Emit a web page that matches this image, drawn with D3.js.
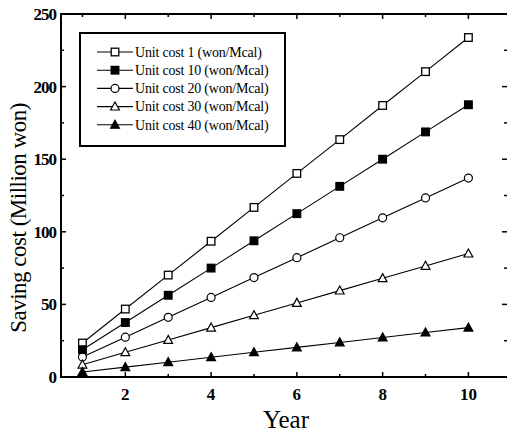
<!DOCTYPE html>
<html>
<head>
<meta charset="utf-8">
<script src="https://cdn.jsdelivr.net/npm/d3@7"></script>
<style>
  body { margin: 0; background: #fff; }
  svg { display: block; }
</style>
</head>
<body>
<div id="chart"></div>
<script>
// data
const years = [1, 2, 3, 4, 5, 6, 7, 8, 9, 10];
const cost1 = [23.4, 46.8, 70.2, 93.5, 116.8, 140.2, 163.5, 187, 210.3, 233.8];
const cost10 = [18.8, 37.5, 56.3, 75, 93.8, 112.5, 131.3, 150, 168.8, 187.5];
const cost20 = [13.7, 27.4, 41.1, 54.8, 68.5, 82.2, 95.9, 109.6, 123.3, 137];
const cost30 = [8.5, 17, 25.5, 34, 42.5, 51, 59.5, 68, 76.5, 85];
const cost40 = [3.4, 6.8, 10.2, 13.6, 17, 20.4, 23.8, 27.2, 30.6, 34];
const seriesNames = [
  'Unit cost 1 (won/Mcal)',
  'Unit cost 10 (won/Mcal)',
  'Unit cost 20 (won/Mcal)',
  'Unit cost 30 (won/Mcal)',
  'Unit cost 40 (won/Mcal)'
];
const markerTypes = ['squareOpen', 'squareFilled', 'circleOpen', 'triangleOpen', 'triangleFilled'];
const xTicks = [2, 4, 6, 8, 10];
const yTicks = [0, 50, 100, 150, 200, 250];

const FONT = "'Liberation Serif', 'Times New Roman', Times, serif";

const series = [cost1, cost10, cost20, cost30, cost40].map((vals, i) => ({
  name: seriesNames[i],
  marker: markerTypes[i],
  values: vals.map((v, j) => ({ x: years[j], y: v }))
}));

const width = 507;
const height = 434;
const plot = { left: 61, right: 507, top: 14, bottom: 377 };

const svg = d3.select('#chart')
  .append('svg')
  .attr('width', width)
  .attr('height', height)
  .attr('font-family', FONT);

const x = d3.scaleLinear().domain([0.5, 10.9]).range([plot.left, plot.right]);
const y = d3.scaleLinear().domain([0, 250]).range([plot.bottom, plot.top]);

// draw a marker centred at (cx, cy)
function drawMarker(g, type, cx, cy) {
  const filled = type.endsWith('Filled');
  const fill = filled ? '#000' : '#fff';
  if (type.startsWith('square')) {
    g.append('rect')
      .attr('x', cx - 3.8).attr('y', cy - 3.8)
      .attr('width', 7.6).attr('height', 7.6)
      .attr('fill', fill).attr('stroke', '#000').attr('stroke-width', 1.3);
  } else if (type.startsWith('circle')) {
    g.append('circle')
      .attr('cx', cx).attr('cy', cy).attr('r', 4)
      .attr('fill', fill).attr('stroke', '#000').attr('stroke-width', 1.2);
  } else {
    g.append('path')
      .attr('d', `M${cx},${cy - 4.6}L${cx + 4.4},${cy + 3.4}L${cx - 4.4},${cy + 3.4}Z`)
      .attr('fill', fill).attr('stroke', '#000').attr('stroke-width', 1.2);
  }
}

// lines + markers
const line = d3.line().x(d => x(d.x)).y(d => y(d.y));
series.forEach(s => {
  svg.append('path')
    .datum(s.values)
    .attr('d', line)
    .attr('fill', 'none')
    .attr('stroke', '#000')
    .attr('stroke-width', 1.1);
  const g = svg.append('g');
  s.values.forEach(d => drawMarker(g, s.marker, x(d.x), y(d.y)));
});

// frame
const frame = svg.append('g').attr('stroke', '#000').attr('fill', 'none');
frame.append('line').attr('x1', plot.left).attr('x2', plot.right).attr('y1', plot.bottom).attr('y2', plot.bottom).attr('stroke-width', 2);
frame.append('line').attr('x1', plot.left).attr('x2', plot.right).attr('y1', plot.top).attr('y2', plot.top).attr('stroke-width', 2);
frame.append('line').attr('x1', plot.left).attr('x2', plot.left).attr('y1', plot.top - 1).attr('y2', plot.bottom + 1).attr('stroke-width', 2);

// ticks, inward, mirrored on top/right
const xMinor = d3.range(1, 11);
xMinor.forEach(v => {
  const len = v % 2 === 0 ? 5 : 3;
  frame.append('line').attr('x1', x(v)).attr('x2', x(v)).attr('y1', plot.bottom).attr('y2', plot.bottom - len).attr('stroke-width', 1.5);
  frame.append('line').attr('x1', x(v)).attr('x2', x(v)).attr('y1', plot.top).attr('y2', plot.top + len).attr('stroke-width', 1.5);
});
const yMinor = d3.range(0, 251, 25);
yMinor.forEach(v => {
  const len = v % 50 === 0 ? 5 : 3;
  frame.append('line').attr('x1', plot.left).attr('x2', plot.left + len).attr('y1', y(v)).attr('y2', y(v)).attr('stroke-width', 1.5);
  frame.append('line').attr('x1', plot.right).attr('x2', plot.right - len).attr('y1', y(v)).attr('y2', y(v)).attr('stroke-width', 1.5);
});

// tick labels
svg.append('g').selectAll('text')
  .data(xTicks)
  .join('text')
  .attr('x', d => x(d))
  .attr('y', 400)
  .attr('text-anchor', 'middle')
  .attr('font-family', FONT)
  .style('font-size', '17px')
  .style('font-weight', 'bold')
  .text(d => d);

svg.append('g').selectAll('text')
  .data(yTicks)
  .join('text')
  .attr('x', 56)
  .attr('y', d => y(d) + 6)
  .attr('text-anchor', 'end')
  .attr('font-family', FONT)
  .style('font-size', '17px')
  .style('font-weight', 'bold')
  .style('letter-spacing', '-1px')
  .text(d => d);

// axis titles
svg.append('text')
  .attr('x', 286)
  .attr('y', 428)
  .attr('text-anchor', 'middle')
  .attr('font-family', FONT)
  .style('font-size', '25px')
  .text('Year');

svg.append('text')
  .attr('transform', 'translate(26, 218) rotate(-90)')
  .attr('text-anchor', 'middle')
  .attr('font-family', FONT)
  .style('font-size', '23px')
  .style('letter-spacing', '-0.5px')
  .text('Saving cost (Million won)');

// legend
const legend = svg.append('g');
legend.append('rect')
  .attr('x', 80).attr('y', 33)
  .attr('width', 205).attr('height', 113)
  .attr('fill', '#fff').attr('stroke', '#000').attr('stroke-width', 2);

series.forEach((s, i) => {
  const ly = 52 + i * 18.2;
  legend.append('line')
    .attr('x1', 97).attr('x2', 133).attr('y1', ly).attr('y2', ly)
    .attr('stroke', '#000').attr('stroke-width', 1.1);
  drawMarker(legend, s.marker, 115, ly);
  legend.append('text')
    .attr('x', 135)
    .attr('y', ly + 4.7)
    .attr('font-family', FONT)
    .style('font-size', '14px')
    .style('letter-spacing', '-0.2px')
    .text(s.name);
});
</script>
</body>
</html>
